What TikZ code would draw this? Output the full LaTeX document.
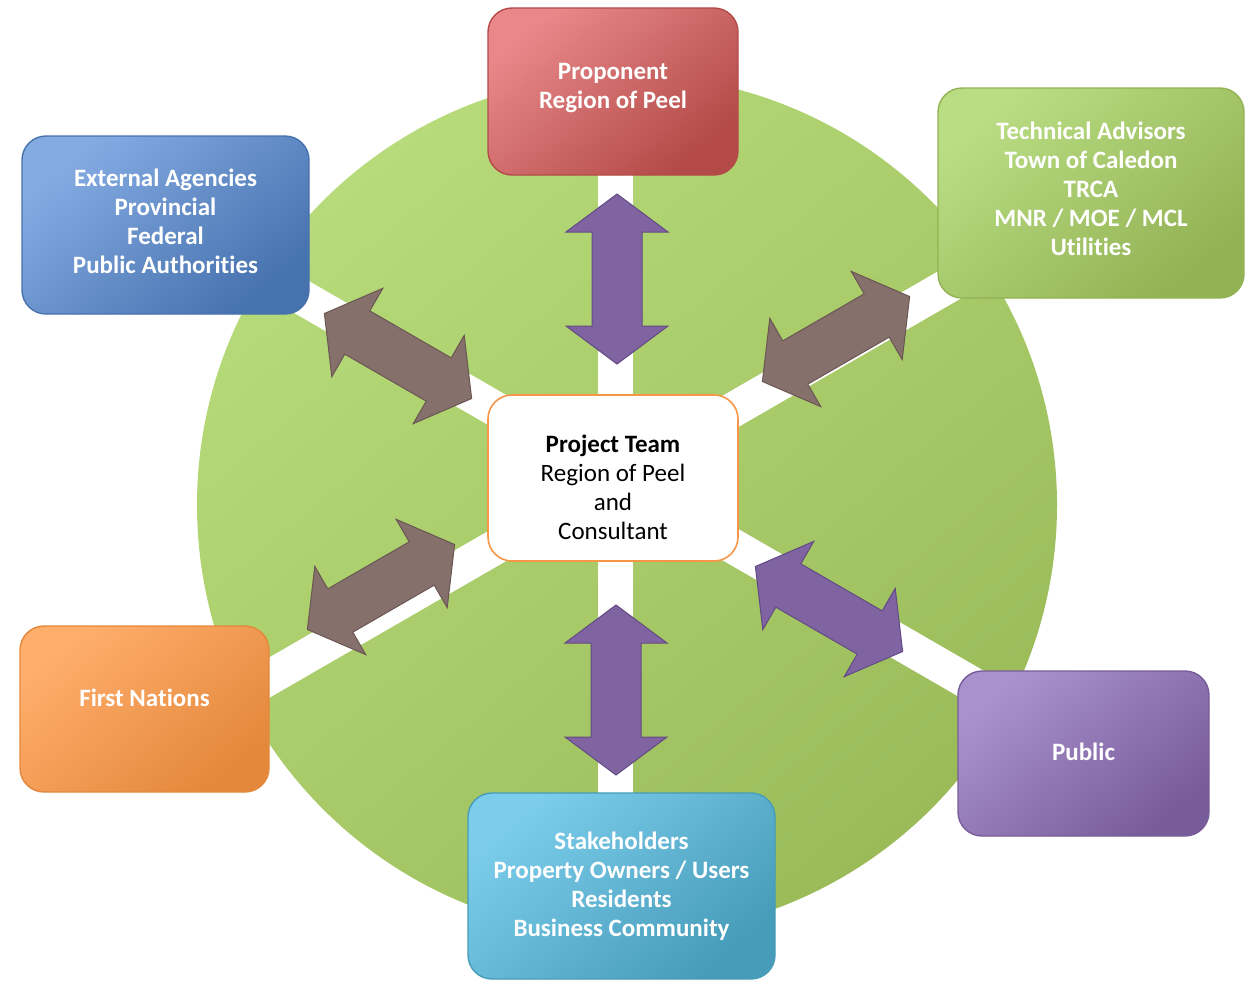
\documentclass[tikz,border=0pt]{standalone}
\usepackage{fontspec}
\setmainfont{Carlito}[Ligatures=NoCommon]
\usepackage{tikz}
\usetikzlibrary{shapes}
\definecolor{ringlight}{HTML}{B7DB7A}
\definecolor{ringdark}{HTML}{9BBB59}
\definecolor{redlight}{HTML}{E8888A}
\definecolor{reddark}{HTML}{B34A47}
\definecolor{bluelight}{HTML}{85ABE3}
\definecolor{bluedark}{HTML}{4672AE}
\definecolor{greenlight}{HTML}{BADD84}
\definecolor{greendark}{HTML}{92B253}
\definecolor{orangelight}{HTML}{FFAE6C}
\definecolor{orangedark}{HTML}{E4883C}
\definecolor{purplelight}{HTML}{A892CE}
\definecolor{purpledark}{HTML}{785C99}
\definecolor{cyanlight}{HTML}{7CCDEC}
\definecolor{cyandark}{HTML}{469CB9}
\definecolor{teamline}{HTML}{F79646}
\definecolor{arrowbrown}{HTML}{86706B}
\definecolor{arrowbrownline}{HTML}{6A5652}
\definecolor{arrowpurple}{HTML}{8064A2}
\definecolor{arrowpurpleline}{HTML}{634A84}
\tikzstyle{role box}=[rectangle,rounded corners=12pt,line width=0.7pt,inner sep=0pt]
\tikzstyle{role text}=[align=center,text=white,font=\bfseries\fontsize{12.5}{14.5}\selectfont]
\tikzstyle{team box}=[rectangle,rounded corners=12pt,draw=teamline,line width=0.8pt,fill=white,inner sep=0pt]
\tikzstyle{team text}=[align=center,font=\fontsize{12.5}{14.5}\selectfont]
\tikzstyle{spoke}=[draw=white,line width=17.5pt]
\tikzstyle{brown arrow}=[fill=arrowbrown,draw=arrowbrownline,line width=0.5pt]
\tikzstyle{purple arrow}=[fill=arrowpurple,draw=arrowpurpleline,line width=0.5pt]
\tikzset{
  pics/linkarrow/.style={code={
    \path[pic actions] (-85,0) -- (-47,-51) -- (-47,-25) -- (47,-25) -- (47,-51)
      -- (85,0) -- (47,51) -- (47,25) -- (-47,25) -- (-47,51) -- cycle;
  }}
}
\begin{document}
\begin{tikzpicture}[x=0.5pt,y=-0.5pt]
  \useasboundingbox (0,0) rectangle (1245,980);
  % ring and spokes
  \shade[top color=ringlight,bottom color=ringdark,shading angle=40] (627,505) circle (215pt);
  \coordinate (hub) at (615,478);
  \begin{scope}
    \clip (627,505) circle (215pt);
    \foreach \a in {30,90,150,210,270,330}
      \draw[spoke] (hub) -- +(\a:500);
  \end{scope}
  % arrows
  \pic[purple arrow,rotate=90] (topArrow) at (617,279) {linkarrow};
  \pic[purple arrow,rotate=90] (botArrow) at (616,690) {linkarrow};
  \pic[brown arrow,rotate=-30] (ulArrow) at (398,356) {linkarrow};
  \pic[brown arrow,rotate=30] (urArrow) at (836,339) {linkarrow};
  \pic[brown arrow,rotate=30] (llArrow) at (381,587) {linkarrow};
  \pic[purple arrow,rotate=-30] (lrArrow) at (829,609) {linkarrow};
  % boxes
  \node[team box,minimum width=125pt,minimum height=83pt,
    label={[team text,yshift=-4.5pt]center:{\textbf{Project Team}\\Region of Peel\\and\\Consultant}}]
    (team) at (613,478) {};
  \node[role box,draw=reddark,top color=redlight,bottom color=reddark,shading angle=40,
    minimum width=125pt,minimum height=83.5pt,
    label={[role text,yshift=1.75pt]center:{Proponent\\Region of Peel}}]
    (prop) at (613,91.5) {};
  \node[role box,draw=bluedark,top color=bluelight,bottom color=bluedark,shading angle=40,
    minimum width=143.5pt,minimum height=89pt,
    label={[role text,yshift=2pt]center:{External Agencies\\Provincial\\Federal\\Public Authorities}}]
    (ext) at (165.5,225) {};
  \node[role box,draw=greendark,top color=greenlight,bottom color=greendark,shading angle=40,
    minimum width=153pt,minimum height=105pt,
    label={[role text,yshift=2pt]center:{Technical Advisors\\Town of Caledon\\TRCA\\MNR / MOE / MCL\\Utilities}}]
    (tech) at (1091,193) {};
  \node[role box,draw=orangedark,top color=orangelight,bottom color=orangedark,shading angle=40,
    minimum width=124.5pt,minimum height=83pt,
    label={[role text,yshift=5.5pt]center:{First Nations}}]
    (first) at (144.5,709) {};
  \node[role box,draw=purpledark,top color=purplelight,bottom color=purpledark,shading angle=40,
    minimum width=125.5pt,minimum height=82.5pt,
    label={[role text,yshift=1pt]center:{Public}}]
    (pub) at (1083.5,753.5) {};
  \node[role box,draw=cyandark,top color=cyanlight,bottom color=cyandark,shading angle=40,
    minimum width=153.5pt,minimum height=93pt,
    label={[role text]center:{Stakeholders\\Property Owners / Users\\Residents\\Business Community}}]
    (stake) at (621.5,886) {};
\end{tikzpicture}
\end{document}
